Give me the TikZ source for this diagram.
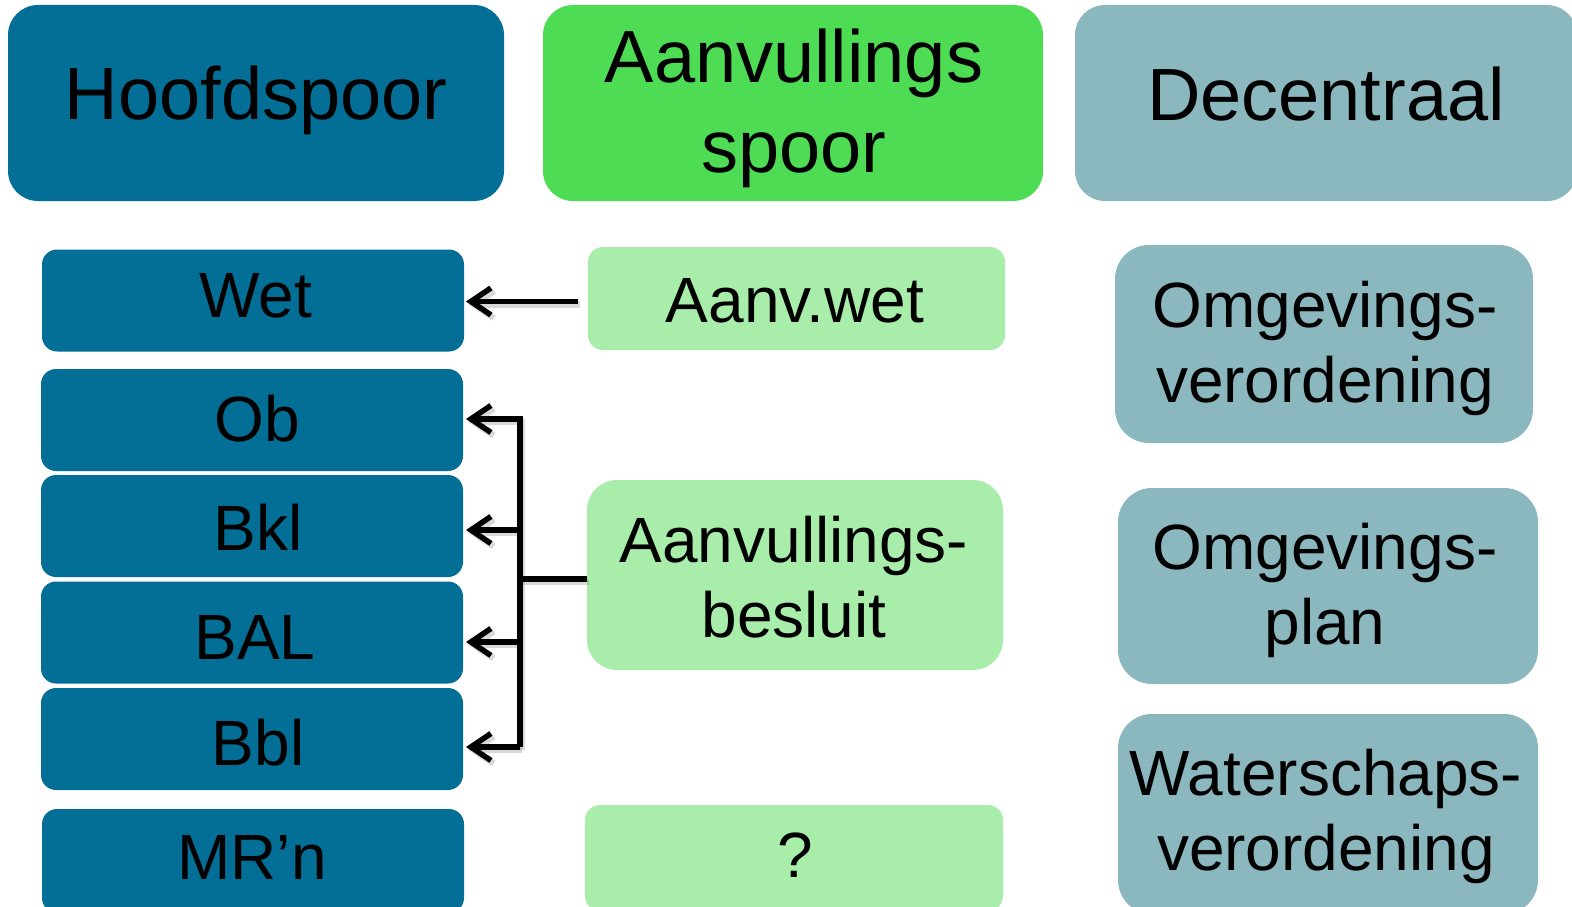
\documentclass[tikz,border=0pt]{standalone}
\usepackage{fontspec}
\setmainfont{Liberation Sans}
\usetikzlibrary{arrows.meta}
\definecolor{cdark}{HTML}{036E96}
\definecolor{cgreen}{HTML}{4FDC55}
\definecolor{clight}{HTML}{A8EEAA}
\definecolor{cteal}{HTML}{8BB8BF}
\tikzset{
  boxbase/.style={inner sep=0pt, outer sep=0pt, draw=none},
  headbox/.style={boxbase, rounded corners=30pt, minimum height=196pt},
  smallbox/.style={boxbase, rounded corners=15pt, minimum width=422pt, minimum height=102pt, fill=cdark},
  bigbox/.style={boxbase, rounded corners=34pt, minimum width=420pt, minimum height=196pt, fill=cteal},
  headtxt/.style={anchor=base, inner sep=0pt, font=\fontsize{74}{90}\selectfont},
  bodytxt/.style={anchor=base, inner sep=0pt, font=\fontsize{64}{75}\selectfont},
  linkline/.style={line width=5.5pt, black,
     preaction={draw=black, opacity=0.15, line width=6.5pt, transform canvas={shift={(2pt,-3pt)}}}},
  arr/.style={linkline, -{Straight Barb[length=20pt,width=27pt]}},
}
\newcommand{\twolines}[2]{\begin{tabular}[t]{@{}c@{}}#1\\#2\end{tabular}}
\begin{document}
\begin{tikzpicture}[x=1pt,y=-1pt]
\useasboundingbox (0,0) rectangle (1572,907);
% header row
\node[headbox, fill=cdark, minimum width=496pt] (hoofd) at (256,103) {};
\node[headbox, fill=cgreen, minimum width=500pt] (aspoor) at (793,103) {};
\node[headbox, fill=cteal, minimum width=502pt] (decen) at (1326,103) {};
\node[headtxt] (thoofd) at (256,119) {Hoofdspoor};
\node[headtxt] (taspoor) at (794,83) {\twolines{Aanvullings}{spoor}};
\node[headtxt] (tdecen) at (1326,120) {Decentraal};
% left column
\node[smallbox] (wet) at (253,300.5) {};
\node[smallbox] (ob) at (252,420) {};
\node[smallbox] (bkl) at (252,526) {};
\node[smallbox] (bal) at (252,632.5) {};
\node[smallbox] (bbl) at (252,739) {};
\node[smallbox, minimum height=104pt] (mrn) at (253,861) {};
\node[bodytxt] (twet) at (256,317) {Wet};
\node[bodytxt] (tob) at (257,441) {Ob};
\node[bodytxt] (tbkl) at (258,550) {Bkl};
\node[bodytxt] (tbal) at (255,659) {BAL};
\node[bodytxt] (tbbl) at (258,765) {Bbl};
\node[bodytxt] (tmrn) at (252,879) {MR’n};
% middle column
\node[boxbase, fill=clight, rounded corners=15pt, minimum width=417pt, minimum height=103pt] (awet) at (796.5,298.5) {};
\node[boxbase, fill=clight, rounded corners=30pt, minimum width=416pt, minimum height=190pt] (besluit) at (795,575) {};
\node[boxbase, fill=clight, rounded corners=15pt, minimum width=418pt, minimum height=106pt] (vraag) at (794,858) {};
\node[bodytxt] (tawet) at (795,322) {Aanv.wet};
\node[bodytxt] (tbesluit) at (794,562) {\twolines{Aanvullings-}{besluit}};
\node[bodytxt] (tvraag) at (795,877) {?};
% right column
\node[bigbox, minimum width=418pt, minimum height=198pt] (omgv) at (1324,344) {};
\node[bigbox] (omgp) at (1328,586) {};
\node[bigbox, minimum height=200pt] (water) at (1328,814) {};
\node[bodytxt] (tomgv) at (1325,327) {\twolines{Omgevings-}{verordening}};
\node[bodytxt] (tomgp) at (1325,569) {\twolines{Omgevings-}{plan}};
\node[bodytxt] (twater) at (1326,795) {\twolines{Waterschaps-}{verordening}};
% connectors
\coordinate (wstart) at ([xshift=-10pt,yshift=-3pt]awet.west);
\draw[arr] (wstart) -- ([xshift=2pt]wet.east |- wstart);
\coordinate (jt) at (520,419);
\coordinate (jbkl) at (520,530);
\coordinate (jbal) at (520,642);
\coordinate (jb) at (520,747);
\coordinate (jm) at (520,579);
\draw[linkline] (besluit.west |- jm) -- (jm);
\draw[arr] (jb) -- (jt) -- ([xshift=3pt]ob.east |- jt);
\draw[arr] (jbkl) -- ([xshift=3pt]bkl.east |- jbkl);
\draw[arr] (jbal) -- ([xshift=3pt]bal.east |- jbal);
\draw[arr] (jb) -- ([xshift=3pt]bbl.east |- jb);
\end{tikzpicture}
\end{document}
